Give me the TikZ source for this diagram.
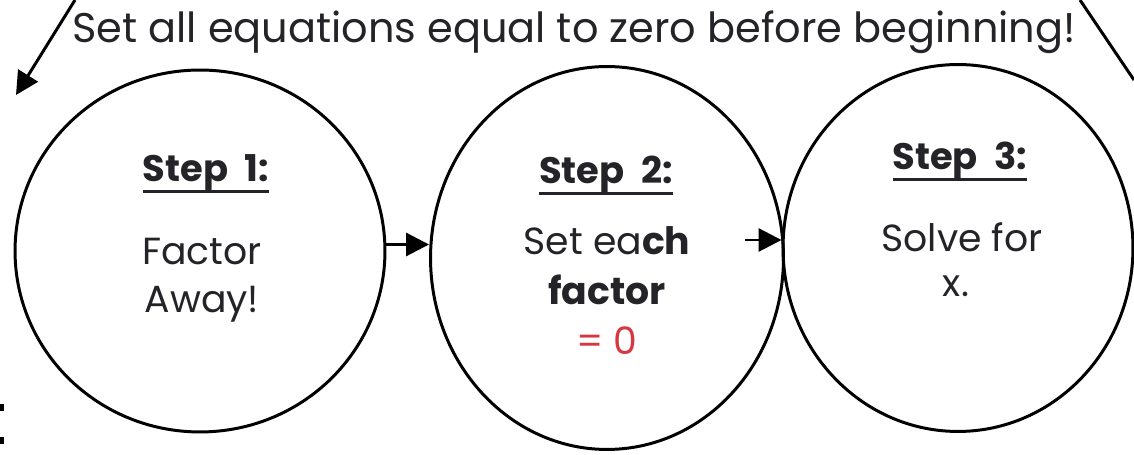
\documentclass[tikz,border=0pt]{standalone}
\usepackage{fontspec}
\setmainfont{Poppins}
\usepackage{xcolor}
\usepackage{tikz}
\usetikzlibrary{arrows.meta,positioning,shapes.geometric,calc}
\definecolor{inkgray}{RGB}{35,35,40}
\definecolor{zerored}{RGB}{215,55,65}
\newcommand{\stepul}[1]{\setbox0\hbox{#1}\rlap{\rule[-0.3em]{\wd0}{1.6pt}}\box0}

\begin{document}
\begin{tikzpicture}[x=0.02cm, y=-0.02cm,
  every node/.style={text=inkgray, inner sep=0pt},
  stepcircle/.style={draw=black, line width=1.7pt, ellipse},
  steplabel/.style={font=\fontsize{21}{25}\selectfont\bfseries, anchor=base},
  bodytext/.style={font=\fontsize{21.5}{25}\selectfont, anchor=base},
  arr/.style={-{Triangle[length=0.46cm, width=0.46cm]}, line width=1.7pt}]
\useasboundingbox (0,0) rectangle (1134,455);
\node at (574,43) [anchor=base, font=\fontsize{23.6}{28}\selectfont] (hint) {Set all equations equal to zero before beginning!};
\node[stepcircle, minimum width=7.4cm, minimum height=7.24cm] (c1) at (200,251) {};
\node[stepcircle, minimum width=7.06cm, minimum height=7.66cm] (c2) at (607,258) {};
\node[stepcircle, minimum width=7.0cm, minimum height=7.34cm] (c3) at (958,248) {};
% step 1
\node[steplabel] (lbl1) at (206,182) {\stepul{Step\hspace{0.45em}1:}};
\node[bodytext] (b1a) at (202,265) {Factor};
\node[bodytext] (b1b) at (202,313) {Away!};
% step 2
\node[steplabel] (lbl2) at (606,184) {\stepul{Step\hspace{0.45em}2:}};
\node[bodytext] (b2a) at (607,255) {Set ea\textbf{ch}};
\node[bodytext] (b2b) at (607,305) {\textbf{factor}};
\node[bodytext, text=zerored] (b2c) at (607,355) {= 0};
% step 3
\node[steplabel] (lbl3) at (960,170) {\stepul{Step\hspace{0.45em}3:}};
\node[bodytext] (b3a) at (962,252) {Solve for};
\node[bodytext] (b3b) at (956,297) {x.};
% arrows
\coordinate (a2) at (745,240);
\draw[arr] (c1.2.5) -- (c2.west |- c1.2.5);
\draw[arr] (a2) -- (c3.west |- a2);
\coordinate (tl) at (75,0);
\coordinate (tlend) at (16,95);
\draw[arr] (tl) -- (tlend);
\coordinate (tr) at (1080,0);
\coordinate (trend) at (1134,80);
\draw[line width=1.7pt] (tr) -- (trend);
% cut-off colon at the left edge
\fill (0,404) rectangle (4,411);
\fill (0,437) rectangle (4,444);
\end{tikzpicture}
\end{document}
